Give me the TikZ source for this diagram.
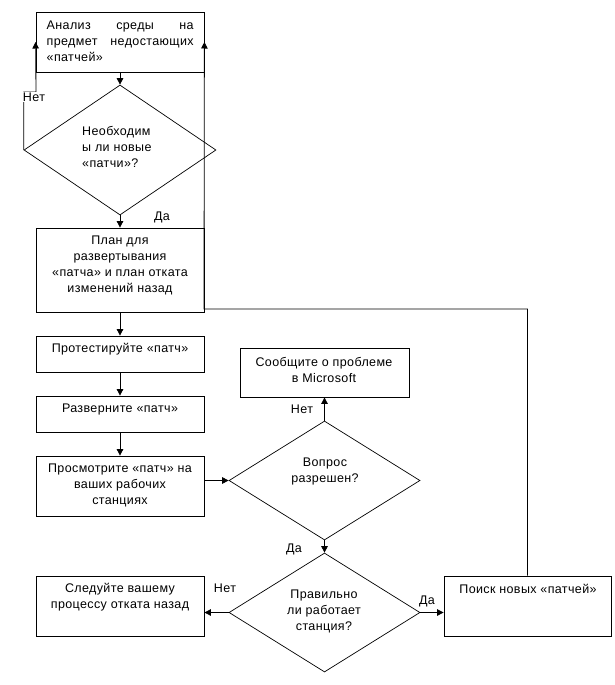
\documentclass[tikz,border=0pt]{standalone}
\usepackage{fontspec}
\setmainfont{Liberation Sans}[LetterSpace=3]
\usetikzlibrary{arrows.meta,shapes.geometric}
\begin{document}
\begin{tikzpicture}[x=1pt,y=-1pt,
  font=\fontsize{12.5}{16}\selectfont,
  box/.style={draw,line width=0.8pt,inner sep=0pt,minimum width=168pt},
  dia/.style={draw,diamond,line width=0.7pt,inner sep=0pt,aspect=1},
  arr/.style={line width=0.8pt,-{Triangle[length=6.5pt,width=6.5pt]}},
  lbl/.style={inner sep=1pt},
  txt/.style={inner sep=0pt,align=center}]
\useasboundingbox (0,0) rectangle (614,685);
% boxes
\node[box,minimum height=60pt] (analiz) at (120,42) {};
\node[dia,minimum width=192pt,minimum height=130pt] (d1) at (120,150) {};
\node[box,minimum height=84pt] (plan) at (120,270) {};
\node[box,minimum height=36pt] (test) at (120,354) {};
\node[box,minimum height=36pt] (deploy) at (120,414) {};
\node[box,minimum height=60pt] (review) at (120,486) {};
\node[box,minimum width=169pt,minimum height=49pt] (report) at (324.5,372.5) {};
\node[dia,minimum width=191pt,minimum height=119pt] (d2) at (324.5,480.5) {};
\node[dia,minimum width=191pt,minimum height=119pt] (d3) at (324.5,612.5) {};
\node[box,minimum height=60pt] (follow) at (120,606) {};
\node[box,minimum width=167pt,minimum height=60pt] (search) at (527.5,606) {};
% texts
\node[txt,align=left,anchor=west] (t1) at (46.5,41)
  {\makebox[147pt][l]{Анализ\hfill среды\hfill на}\\\makebox[147pt][l]{предмет\hfill недостающих}\\«патчей»};
\node[txt,align=left,anchor=west] (t2) at (82,147) {Необходим\\ы ли новые\\«патчи»?};
\node[txt] (t3) at (120,265) {План для\\развертывания\\«патча» и план отката\\изменений назад};
\node[txt] (t4) at (120,349) {Протестируйте «патч»};
\node[txt] (t5) at (120,409) {Разверните «патч»};
\node[txt] (t6) at (120,485) {Просмотрите «патч» на\\ваших рабочих\\станциях};
\node[txt] (t7) at (324,370) {Сообщите о проблеме\\в Microsoft};
\node[txt] (t8) at (325,471) {Вопрос\\разрешен?};
\node[txt] (t9) at (324,611) {Правильно\\ли работает\\станция?};
\node[txt] (t10) at (120,597) {Следуйте вашему\\процессу отката назад};
\node[txt] (t11) at (528,589) {Поиск новых «патчей»};
% connectors
\coordinate (k1) at (36,92);
\coordinate (k2) at (204,309);
\draw[arr] (analiz.south) -- (d1.north);
\draw[arr] (d1.south) -- (plan.north);
\draw[arr] (plan.south) -- (test.north);
\draw[arr] (test.south) -- (deploy.north);
\draw[arr] (deploy.south) -- (review.north);
\draw[arr] (review.east|-d2.west) -- (d2.west);
\draw[arr] (d2.north) -- (report.south);
\draw[arr] (d2.south) -- (d3.north);
\draw[arr] (d3.west) -- (d3.west-|follow.east);
\draw[arr] (d3.east) -- (d3.east-|search.west);
\draw[arr] (d1.west) |- (k1) -- (analiz.west);
\draw[arr] (search.north) |- (k2) -- (analiz.east);
% labels
\node[lbl,fill=white] (l1) at (34,97) {Нет};
\node[lbl] (l2) at (162,217) {Да};
\node[lbl] (l3) at (302,409) {Нет};
\node[lbl] (l4) at (294,549) {Да};
\node[lbl] (l5) at (225,588) {Нет};
\node[lbl] (l6) at (427,601) {Да};
\end{tikzpicture}
\end{document}
